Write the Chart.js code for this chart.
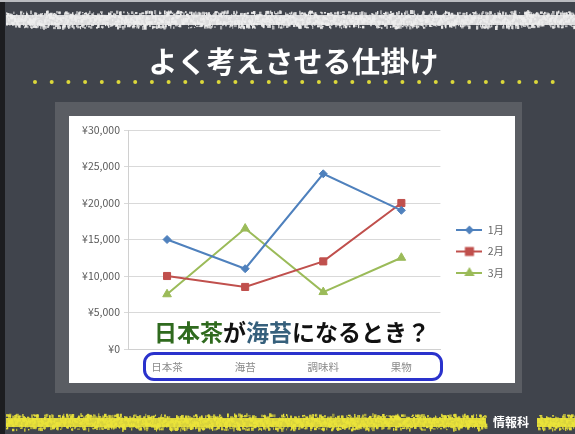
<!DOCTYPE html>
<html>
<head>
<meta charset="utf-8">
<script src="https://cdn.jsdelivr.net/npm/chart.js@4.4.0/dist/chart.umd.min.js"></script>
<style>
  body { margin: 0; width: 575px; height: 434px; overflow: hidden; background: #40444c; font-family: "Noto Sans CJK JP", sans-serif; }
  #bg { position: absolute; left: 0; top: 0; }
  #title { position: absolute; left: 0; width: 575px; top: 40px; text-align: center; color: #fff; font-size: 29px; font-weight: bold; line-height: 40px; padding-left: 12px; box-sizing: border-box; }
  #frame { position: absolute; left: 55px; top: 102px; width: 467px; height: 291px; background: #5a5d63; }
  #panel { position: absolute; left: 69px; top: 116px; width: 446px; height: 267px; background: #fff; }
  #note { position: absolute; left: 154px; top: 315px; font-size: 23px; font-weight: bold; color: #111; line-height: 32px; white-space: nowrap; }
  #note .g { color: #2f6a1e; }
  #note .b { color: #36607c; }
  #box { position: absolute; left: 143px; top: 352px; width: 294px; height: 23px; border: 3px solid #2a32cc; border-radius: 11px; }
  #footer { position: absolute; left: 493px; top: 414px; color: #fff; font-size: 12px; font-weight: bold; line-height: 16px; }
</style>
</head>
<body>
<canvas id="bg" width="575" height="434"></canvas>
<div id="title">よく考えさせる仕掛け</div>
<div id="frame"></div>
<div id="panel"><canvas id="chart"></canvas></div>
<div id="note"><span class="g">日本茶</span>が<span class="b">海苔</span>になるとき？</div>
<div id="box"></div>
<div id="footer">情報科</div>
<script>
const categories = ['日本茶', '海苔', '調味料', '果物'];
const seriesNames = ['1月', '2月', '3月'];
const jan = [15000, 11000, 24000, 19000];
const feb = [10000, 8500, 12000, 20000];
const mar = [7500, 16500, 7800, 12500];
const yMax = 30000;
const yStep = 5000;

// chalkboard decorations
const bg = document.getElementById('bg').getContext('2d');
function h(i) { const x = Math.sin(i * 12.9898) * 43758.5453; return x - Math.floor(x); }
function chalk(x0, x1, y0, y1, color, seed) {
  bg.fillStyle = color;
  bg.globalAlpha = 0.9;
  bg.fillRect(x0, y0 + 3, x1 - x0, y1 - y0 - 6);
  let k = seed * 1000;
  for (let x = x0; x < x1; x += 1) {
    for (let j = 0; j < 3; j++) {
      k++;
      const yy = y0 + h(k) * (y1 - y0);
      const hh = 1 + h(k * 1.3) * 3;
      bg.globalAlpha = 0.5 + h(k * 2.7) * 0.5;
      bg.fillRect(x, yy - hh / 2, 1 + h(k * 0.7) * 2, hh);
    }
  }
  bg.globalAlpha = 1;
}
bg.fillStyle = '#1c1d20';
bg.fillRect(0, 0, 5, 434);
bg.fillStyle = '#b9bbbf';
bg.fillRect(0, 0, 575, 2);
chalk(6, 575, 12, 28, '#eeeeee', 1);
chalk(6, 486, 415, 430, '#ebe43a', 7);
chalk(537, 575, 415, 430, '#ebe43a', 3);
bg.fillStyle = '#dcd83a';
for (let x = 35; x < 560; x += 16.7) {
  bg.beginPath();
  bg.arc(x, 82, 2, 0, Math.PI * 2);
  bg.fill();
}

function legendMark(color, style, radius) {
  const c = document.createElement('canvas');
  c.width = 26; c.height = 12;
  const ctx = c.getContext('2d');
  ctx.strokeStyle = color;
  ctx.fillStyle = color;
  ctx.lineWidth = 2;
  ctx.beginPath();
  ctx.moveTo(0, 6); ctx.lineTo(26, 6);
  ctx.stroke();
  Chart.helpers.drawPoint(ctx, { pointStyle: style, radius: radius, rotation: 0, borderWidth: 1 }, 13, 6);
  return c;
}

const colors = ['#4f81bd', '#c0504d', '#9bbb59'];
const styles = ['rectRot', 'rect', 'triangle'];
const radii = [4, 5, 5];
const marks = colors.map((c, i) => legendMark(c, styles[i], [3, 5, 4][i]));

const legendShift = {
  id: 'legendShift',
  afterLayout(chart) {
    const l = chart.legend;
    l.top -= 5; l.bottom -= 5;
    l.left += 5; l.right += 5;
  }
};

new Chart(document.getElementById('chart'), {
  type: 'line',
  data: {
    labels: categories,
    datasets: [jan, feb, mar].map((d, i) => ({
      label: seriesNames[i],
      data: d,
      borderColor: colors[i],
      backgroundColor: colors[i],
      borderWidth: 2,
      pointStyle: styles[i],
      pointRadius: radii[i],
      pointBorderWidth: 1,
      tension: 0
    }))
  },
  options: {
    responsive: true,
    maintainAspectRatio: false,
    animation: false,
    layout: { padding: { top: 14, right: 6, bottom: 0, left: 0 } },
    scales: {
      x: {
        offset: true,
        grid: { display: false },
        border: { color: '#d0d0d0' },
        ticks: { color: '#8a8a8a', font: { size: 10.5, family: 'Noto Sans CJK JP' }, padding: 4 },
        afterFit(s) { s.height = 34; }
      },
      y: {
        min: 0, max: yMax,
        grid: { color: '#d9d9d9', tickLength: 4 },
        border: { color: '#d0d0d0' },
        ticks: {
          stepSize: yStep,
          color: '#5a5a5a',
          padding: 4,
          font: { size: 10.5, family: 'Noto Sans CJK JP' },
          callback: v => '¥' + v.toLocaleString('en-US')
        },
        afterFit(s) { s.width = 59; }
      }
    },
    plugins: {
      legend: {
        position: 'right',
        labels: {
          usePointStyle: true,
          pointStyleWidth: 26,
          padding: 11,
          color: '#666',
          font: { size: 10.5, family: 'Noto Sans CJK JP' },
          generateLabels(chart) {
            return chart.data.datasets.map((ds, i) => ({
              text: ds.label,
              pointStyle: marks[i],
              fillStyle: colors[i],
              strokeStyle: colors[i],
              lineWidth: 0,
              fontColor: '#666',
              datasetIndex: i
            }));
          }
        }
      },
      tooltip: { enabled: false }
    }
  },
  plugins: [legendShift]
});
</script>
</body>
</html>
